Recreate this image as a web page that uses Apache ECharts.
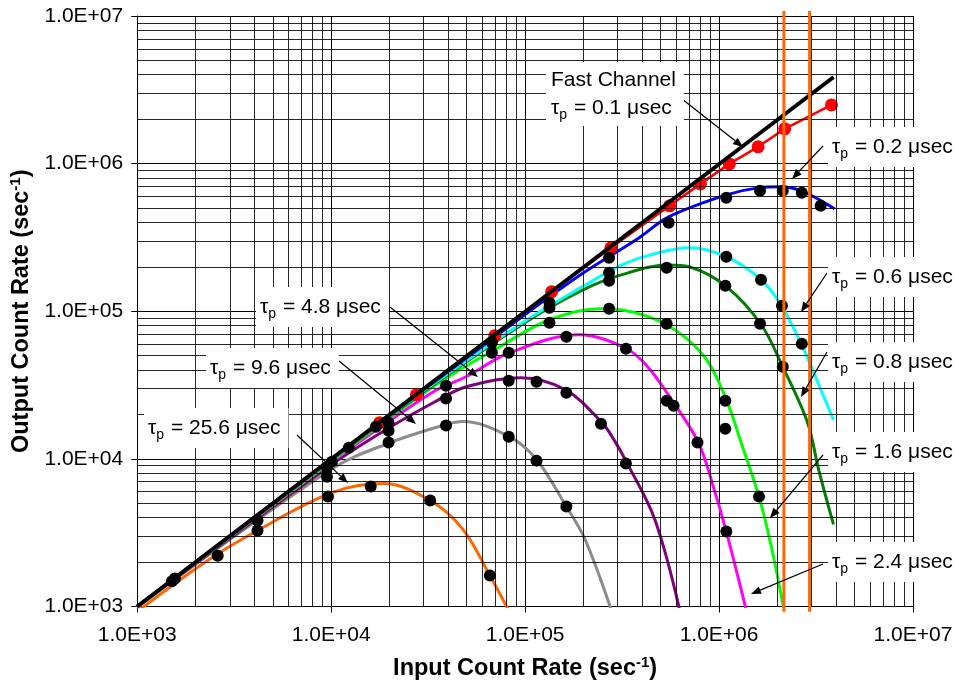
<!DOCTYPE html>
<html lang="en">
<head>
<meta charset="UTF-8">
<title>Output Count Rate vs Input Count Rate</title>
<script src="https://cdn.jsdelivr.net/npm/echarts@6/dist/echarts.min.js"></script>
<style>html,body{margin:0;padding:0;background:#fff;}</style>
</head>
<body>
<div id="chart" style="width:959px;height:686px;"></div>
<script>
// input count rate (x) vs output count rate (y), both in sec^-1
const tickLabels = ['1.0E+03', '1.0E+04', '1.0E+05', '1.0E+06', '1.0E+07'];

const fastChannel = [[1e3, 1e3], [3.9e6, 3.86e6]];
// tau_p = 0.1 usec, measured (red dots)
const tau01 = [[1.78e4, 1.76e4], [2.75e4, 2.72e4], [6.98e4, 6.83e4], [1.37e5, 1.355e5], [2.77e5, 2.69e5],
  [5.56e5, 5.18e5], [8.02e5, 7.29e5], [1.13e6, 9.96e5], [1.59e6, 1.30e6], [2.18e6, 1.72e6], [3.80e6, 2.50e6]];
const tau02 = [[1e3, 1e3], [1e4, 1e4], [1e5, 9.5e4], [2e5, 1.82e5], [3.86e5, 3.14e5], [5.5e5, 4.36e5],
  [1.09e6, 6.14e5], [1.59e6, 6.85e5], [2.08e6, 6.96e5], [2.73e6, 6.44e5], [3.94e6, 4.94e5]];
const tau06 = [[1e3, 1e3], [1e4, 9.9e3], [3e4, 2.9e4], [1e5, 8.6e4], [2e5, 1.48e5], [3.16e5, 2.06e5],
  [4.5e5, 2.42e5], [7e5, 2.69e5], [1.09e6, 2.34e5], [1.65e6, 1.63e5], [2.08e6, 1.11e5], [2.64e6, 6.1e4],
  [3.26e6, 3.2e4], [3.89e6, 1.84e4]];
const tau08 = [[1e3, 1e3], [1e4, 9.8e3], [3e4, 2.85e4], [1e5, 8.4e4], [2e5, 1.4e5], [3.16e5, 1.77e5],
  [5.5e5, 2.06e5], [7e5, 2.0e5], [1.09e6, 1.47e5], [1.65e6, 8.1e4], [2.13e6, 4.2e4], [2.86e6, 1.76e4],
  [3.26e6, 8.5e3], [3.89e6, 3.6e3]];
const tau16 = [[1e3, 1e3], [1e4, 9.6e3], [3.36e4, 3.08e4], [7.4e4, 5.75e4], [1.335e5, 8.76e4], [2.44e5, 1.04e5],
  [3.16e5, 1.02e5], [5.37e5, 8.1e4], [8.41e5, 4.92e4], [1.09e6, 2.52e4], [1.315e6, 1.23e4],
  [1.607e6, 5.55e3], [1.85e6, 2.63e3], [2.16e6, 954]];
const tau24 = [[1e3, 1e3], [1e4, 9.5e3], [3.36e4, 2.85e4], [4.96e4, 3.6e4], [8.33e4, 5.24e4], [1.9e5, 6.93e4],
  [3.27e5, 5.66e4], [4.24e5, 4.28e4], [5.69e5, 2.52e4], [7.83e5, 1.29e4], [9.24e5, 6.8e3], [1.09e6, 3.22e3],
  [1.379e6, 954]];
const tau48 = [[1e3, 1e3], [1e4, 9.1e3], [2e4, 1.63e4], [3.36e4, 2.4e4], [4.96e4, 3.08e4], [9.48e4, 3.55e4],
  [1.613e5, 2.94e4], [2.49e5, 1.76e4], [2.87e5, 1.35e4], [3.35e5, 9.4e3], [4.66e5, 3.9e3], [6.26e5, 954]];
const tau96 = [[1e3, 985], [1e4, 8.5e3], [2.02e4, 1.29e4], [3.91e4, 1.71e4], [4.79e4, 1.79e4], [8.33e4, 1.41e4],
  [1.145e5, 9.9e3], [1.632e5, 4.75e3], [2.04e5, 2.84e3], [2.81e5, 911]];
const tau256 = [[1e3, 925], [2.23e3, 1.99e3], [4.17e3, 3.27e3], [1.01e4, 5.9e3], [1.86e4, 6.8e3], [3.24e4, 5.22e3],
  [4.79e4, 3.32e3], [6.58e4, 1.62e3], [8.33e4, 911]];

// black dots (measured)
const measured = [
  [2.71e5, 2.30e5], [2.71e5, 1.82e5], [2.71e5, 1.61e5], [2.71e5, 1.04e5],
  [1.335e5, 1.14e5], [1.335e5, 1.056e5], [1.335e5, 8.36e4],
  [6.74e4, 6.12e4], [6.74e4, 5.24e4], [8.23e4, 5.24e4], [1.632e5, 6.72e4], [3.31e5, 5.58e4],
  [3.91e4, 3.13e4], [3.91e4, 2.56e4], [8.23e4, 3.38e4], [1.145e5, 3.33e4], [1.632e5, 2.81e4], [2.46e5, 1.73e4],
  [3.91e4, 1.68e4], [8.23e4, 1.41e4], [1.145e5, 9.73e3], [1.632e5, 4.75e3], [3.31e5, 9.29e3],
  [1.976e4, 1.76e4], [1.976e4, 1.55e4], [1.976e4, 1.29e4], [1.70e4, 1.65e4], [1.233e4, 1.19e4],
  [1.009e4, 9.58e3], [9.51e3, 8.73e3], [9.51e3, 7.58e3], [9.63e3, 5.55e3], [1.60e4, 6.49e3],
  [3.24e4, 5.22e3], [6.58e4, 1.62e3], [4.17e3, 3.82e3], [4.17e3, 3.27e3], [2.60e3, 2.21e3],
  [1.565e3, 1.55e3], [1.51e3, 1.48e3],
  [5.50e5, 3.97e5], [1.09e6, 5.87e5], [1.626e6, 6.54e5], [2.13e6, 6.54e5], [2.67e6, 6.34e5], [3.34e6, 5.18e5],
  [1.09e6, 2.34e5], [5.37e5, 1.97e5], [1.646e6, 1.634e5], [1.077e6, 1.49e5], [2.11e6, 1.09e5],
  [1.626e6, 8.23e4], [5.37e5, 8.23e4], [2.67e6, 6.03e4], [2.13e6, 4.21e4],
  [5.37e5, 2.48e4], [5.83e5, 2.29e4], [1.077e6, 2.48e4], [1.077e6, 1.60e4], [7.74e5, 1.29e4],
  [1.607e6, 5.55e3], [1.09e6, 3.22e3]
];
// orange vertical limits
const limits = [2.16e6, 2.93e6];

const font = 'Liberation Sans, Arial, sans-serif';
const minorSteps = [2, 3, 4, 5, 6, 7, 8, 9];
const decades = [1e3, 1e4, 1e5, 1e6];
const gridMarks = [];
decades.forEach(d => minorSteps.forEach(m => {
  gridMarks.push({ xAxis: d * m });
  gridMarks.push({ yAxis: d * m });
}));

function curve(name, data, color, width, z) {
  return {
    name: name, type: 'line', data: data, smooth: 0.35, showSymbol: false, symbol: 'none',
    lineStyle: { color: color, width: width }, z: z, silent: true
  };
}

const titleStyle = {
  fontFamily: font, fontSize: 23.5, fontWeight: 'bold', color: '#000',
  rich: { sup: { fontFamily: font, fontSize: 15, fontWeight: 'bold', color: '#000', verticalAlign: 'top', padding: [0, 0, 12, 0] } }
};

const chart = echarts.init(document.getElementById('chart'));
const option = {
  animation: false,
  backgroundColor: '#fff',
  grid: { left: 132, right: 46, top: 16, bottom: 79, containLabel: false },
  xAxis: {
    type: 'log', logBase: 10, min: 1e3, max: 1e7,
    name: 'Input Count Rate (sec{sup|-1})', nameLocation: 'middle', nameGap: 49,
    nameTextStyle: titleStyle,
    axisLine: { show: true, onZero: false, lineStyle: { color: '#000', width: 1 } },
    axisTick: { show: true, inside: false, length: 6, lineStyle: { color: '#000' } },
    axisLabel: {
      fontFamily: font, fontSize: 21, color: '#000', margin: 18,
      formatter: v => tickLabels[Math.round(Math.log10(v)) - 3]
    },
    splitLine: { show: true, lineStyle: { color: '#000', width: 1 } }
  },
  yAxis: {
    type: 'log', logBase: 10, min: 1e3, max: 1e7,
    name: 'Output Count Rate (sec{sup|-1})', nameLocation: 'middle', nameGap: 90, nameRotate: 90,
    nameTextStyle: titleStyle,
    axisLine: { show: true, onZero: false, lineStyle: { color: '#000', width: 1 } },
    axisTick: { show: true, inside: false, length: 6, lineStyle: { color: '#000' } },
    axisLabel: {
      fontFamily: font, fontSize: 21, color: '#000', margin: 14,
      formatter: v => tickLabels[Math.round(Math.log10(v)) - 3]
    },
    splitLine: { show: true, lineStyle: { color: '#000', width: 1 } }
  },
  series: [
    {
      name: 'grid', type: 'line', data: [[1e3, 1e3]], symbol: 'none', lineStyle: { opacity: 0 }, z: 1, silent: true,
      markLine: {
        silent: true, symbol: ['none', 'none'], animation: false, label: { show: false },
        lineStyle: { color: '#000', width: 1, type: 'solid', opacity: 0.85 },
        emphasis: { disabled: true },
        data: gridMarks
      }
    },
    curve('25.6', tau256, '#FF6600', 3, 3),
    curve('9.6', tau96, '#8C8C8C', 3, 3),
    curve('4.8', tau48, '#800080', 3, 3),
    curve('2.4', tau24, '#FF00FF', 3, 3),
    curve('1.6', tau16, '#00FF00', 3, 3),
    curve('0.8', tau08, '#008000', 3, 3),
    curve('0.6', tau06, '#00FFFF', 3, 3),
    curve('0.2', tau02, '#0000FF', 3, 3),
    {
      name: '0.1', type: 'line', smooth: false, z: 4, silent: true,
      data: [{ value: [1e3, 1e3], symbol: 'none' }].concat(tau01.map(p => ({ value: p }))),
      symbol: 'circle', symbolSize: 13, itemStyle: { color: '#FF0000', opacity: 1 },
      lineStyle: { color: '#FF0000', width: 2.5 }
    },
    { name: 'fast', type: 'line', data: fastChannel, symbol: 'none', lineStyle: { color: '#000', width: 4 }, z: 5, silent: true },
    {
      name: 'measured', type: 'scatter', data: measured, symbol: 'circle', symbolSize: 12,
      itemStyle: { color: '#000', opacity: 1 }, z: 6, silent: true
    }
  ].concat(limits.map(v => ({
    name: 'limit', type: 'line', data: [[v, 920], [v, 1.08e7]], symbol: 'none', clip: false,
    lineStyle: { color: '#FF6600', width: 3 }, z: 7, silent: true
  })))
};
chart.setOption(option);

// callout labels and arrows
const labelRich = {
  t: { fontFamily: font, fontSize: 21, color: '#000', lineHeight: 28 },
  s: { fontFamily: font, fontSize: 14, color: '#000', lineHeight: 28, verticalAlign: 'bottom', padding: [0, 1, 0, 0] }
};
function tauLabel(v) { return '{t|τ}{s|p}{t| = ' + v + ' μsec}'; }
const callouts = [
  { text: '{t|Fast Channel}\n' + tauLabel('0.1'), x: 546, y: 94, pad: [4, 8, 4, 5], arrow: [682, 99, 743, 147] },
  { text: tauLabel('0.2'), x: 828, y: 147, pad: [6, 10, 6, 4], arrow: [823, 146, 792, 179] },
  { text: tauLabel('0.6'), x: 828, y: 277, pad: [6, 10, 6, 4], arrow: [827, 273, 801, 312] },
  { text: tauLabel('0.8'), x: 828, y: 362, pad: [6, 10, 6, 4], arrow: [827, 352, 801, 397] },
  { text: tauLabel('1.6'), x: 828, y: 452, pad: [6, 10, 6, 4], arrow: [823, 455, 770, 518] },
  { text: tauLabel('2.4'), x: 828, y: 562, pad: [6, 10, 6, 4], arrow: [823, 564, 751, 594] },
  { text: tauLabel('4.8'), x: 256, y: 307, pad: [6, 8, 6, 4], arrow: [390, 307, 478, 377] },
  { text: tauLabel('9.6'), x: 206, y: 368, pad: [6, 8, 6, 4], arrow: [339, 361, 416, 424] },
  { text: tauLabel('25.6'), x: 144, y: 428, pad: [6, 8, 6, 4], arrow: [297, 435, 348, 483] }
];
function arrow(a) {
  const [x1, y1, x2, y2] = a;
  const ang = Math.atan2(y2 - y1, x2 - x1);
  const len = 10, half = 4;
  const bx = x2 - len * Math.cos(ang), by = y2 - len * Math.sin(ang);
  const nx = -Math.sin(ang) * half, ny = Math.cos(ang) * half;
  return [
    { type: 'line', z: 20, silent: true, shape: { x1: x1, y1: y1, x2: bx, y2: by }, style: { stroke: '#000', lineWidth: 1.2 } },
    { type: 'polygon', z: 20, silent: true, shape: { points: [[x2, y2], [bx + nx, by + ny], [bx - nx, by - ny]] }, style: { fill: '#000' } }
  ];
}
const elements = [];
callouts.forEach(c => {
  elements.push(...arrow(c.arrow));
  elements.push({
    type: 'text', z: 30, silent: true, x: c.x, y: c.y,
    style: {
      text: c.text, rich: labelRich, fill: '#000', backgroundColor: '#fff', padding: c.pad,
      align: 'left', verticalAlign: 'middle', font: '21px ' + font
    }
  });
});
chart.setOption({ graphic: { elements: elements } });
</script>
</body>
</html>
